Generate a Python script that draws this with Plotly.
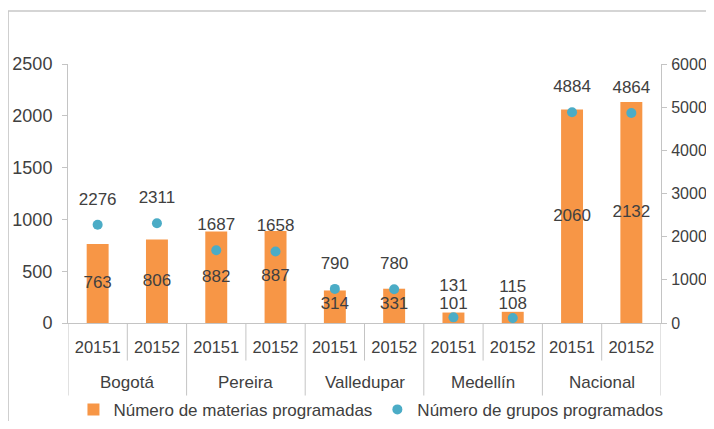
import plotly.graph_objects as go

# data
ciudades = ["Bogotá", "Pereira", "Valledupar", "Medellín", "Nacional"]
periodos = ["20151", "20152"]
materias = [763, 806, 882, 887, 314, 331, 101, 108, 2060, 2132]
grupos = [2276, 2311, 1687, 1658, 790, 780, 131, 115, 4884, 4864]

naranja = "#F79646"
azul = "#4BACC6"
gris = "#C4C4C4"
texto = "#404040"
fuente = "Liberation Sans, Arial, sans-serif"

n = len(materias)
x = list(range(n))
etiquetas_x = periodos * len(ciudades)

fig = go.Figure()

fig.add_trace(go.Bar(
    x=x, y=materias, name="Número de materias programadas",
    marker=dict(color=naranja, line=dict(width=0)),
    yaxis="y"
))

# etiquetas de las barras, centradas (sin bajar del eje, como en Excel)
fig.add_trace(go.Scatter(
    x=x, y=[max(v / 2, 172) for v in materias], mode="text",
    text=[str(v) for v in materias], textfont=dict(size=17, color=texto, family=fuente),
    showlegend=False, hoverinfo="skip", yaxis="y"
))

fig.add_trace(go.Scatter(
    x=x, y=grupos, name="Número de grupos programados", mode="markers",
    marker=dict(color=azul, size=10), yaxis="y2"
))

# etiquetas de los grupos, encima de los puntos
fig.add_trace(go.Scatter(
    x=x, y=grupos, mode="markers+text", text=[str(v) for v in grupos],
    textposition="top center", textfont=dict(size=17, color=texto, family=fuente),
    marker=dict(color="rgba(0,0,0,0)", size=[34 if v < 300 else 24 for v in grupos],
                line=dict(width=0)),
    showlegend=False, hoverinfo="skip", yaxis="y2"
))

# divisiones del eje x (periodos cortas, ciudades largas)
shapes = []
for i in range(n + 1):
    largo = -0.28 if i % 2 == 0 else -0.145
    shapes.append(dict(type="line", xref="x", yref="paper", x0=i - 0.5, x1=i - 0.5,
                       y0=0, y1=largo, line=dict(color=gris, width=1)))
shapes.append(dict(type="rect", xref="paper", yref="paper",
                   x0=-0.101, x1=1.2, y0=-0.6, y1=1.205,
                   line=dict(color="#C8C8C8", width=1.5)))

annotations = []
for j, c in enumerate(ciudades):
    annotations.append(dict(x=j * 2 + 0.5, y=-0.228, xref="x", yref="paper", text=c,
                            showarrow=False, yanchor="middle",
                            font=dict(size=17, color=texto, family=fuente)))

fig.update_layout(
    width=698, height=413,
    margin=dict(l=60, r=45, t=56, b=98, autoexpand=False),
    paper_bgcolor="white", plot_bgcolor="white",
    font=dict(family=fuente, size=17, color=texto),
    bargap=0.63,
    showlegend=True,
    legend=dict(orientation="h", xref="container", yref="container",
                x=0.52, xanchor="center", y=0.027, yanchor="middle",
                font=dict(size=17, color=texto), itemwidth=30, tracegroupgap=0,
                bgcolor="rgba(0,0,0,0)"),
    xaxis=dict(
        range=[-0.5, n - 0.5], tickmode="array", tickvals=x, ticktext=etiquetas_x,
        showline=True, linecolor=gris, linewidth=1,
        ticks="outside", ticklen=9, tickcolor="rgba(0,0,0,0)",
        tickfont=dict(size=16.5, color=texto), showgrid=False, zeroline=False
    ),
    yaxis=dict(
        range=[0, 2500], dtick=500, showline=True, linecolor=gris,
        ticks="outside", ticklen=5, tickcolor=gris, showgrid=False,
        zeroline=False, tickfont=dict(size=18, color=texto), ticklabelstandoff=6
    ),
    yaxis2=dict(
        range=[0, 6000], dtick=1000, overlaying="y", side="right",
        showline=True, linecolor=gris, ticks="outside", ticklen=5, tickcolor=gris,
        showgrid=False, zeroline=False, tickfont=dict(size=16, color=texto),
        ticklabelstandoff=1
    ),
    shapes=shapes,
    annotations=annotations
)

fig.write_html("out.html")
